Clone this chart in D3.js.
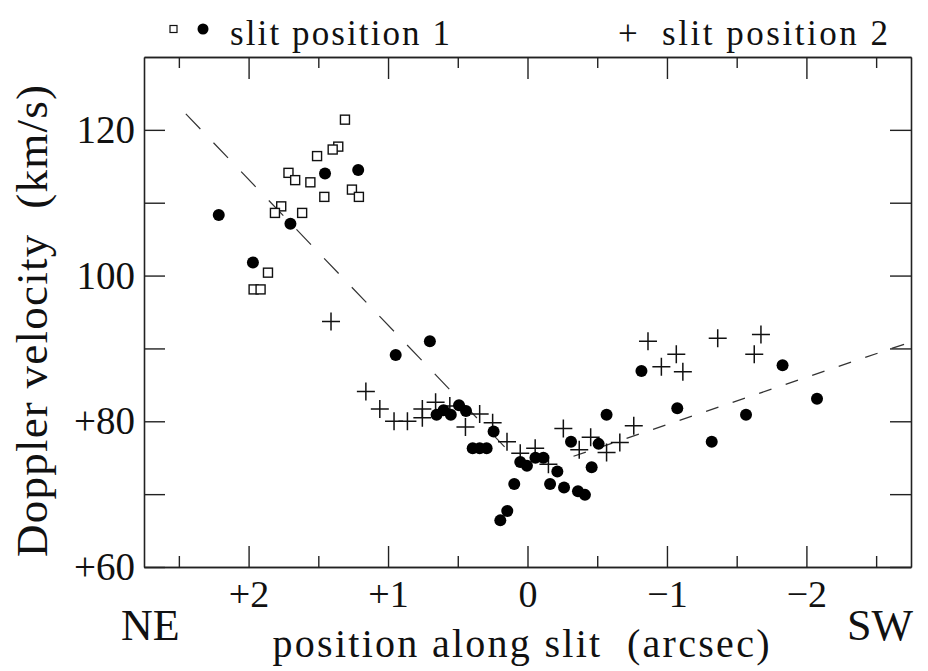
<!DOCTYPE html>
<html>
<head>
<meta charset="utf-8">
<script src="https://cdn.jsdelivr.net/npm/d3@7"></script>
<style>
  body { margin: 0; background: #fff; }
  svg text { font-family: "Liberation Serif", Tinos, "Times New Roman", Times, "DejaVu Serif", serif !important; fill: #111; white-space: pre; }
</style>
</head>
<body>
<div id="chart"></div>
<script>
// slit position 1, open squares
const sqX = [1.309, 1.357, 1.397, 1.509, 1.714, 1.666, 1.557, 1.457, 1.259, 1.209, 1.766, 1.811, 1.616, 1.861, 1.964, 1.914];
const sqY = [121.4, 117.7, 117.3, 116.4, 114.1, 113.1, 112.8, 110.8, 111.8, 110.8, 109.5, 108.6, 108.6, 100.4, 98.1, 98.1];

// slit position 1, filled dots
const dotX = [2.214, 1.969, 1.700, 1.452, 1.214, 0.945, 0.700, 0.652, 0.602, 0.550, 0.491, 0.441, 0.393, 0.343, 0.293,
              0.243, 0.195, 0.145, 0.095, 0.052, 0.004, -0.057, -0.114, -0.162, -0.214, -0.262, -0.312, -0.362, -0.412,
              -0.460, -0.510, -0.567, -0.817, -1.074, -1.321, -1.567, -1.829, -2.076];
const dotY = [108.3, 101.8, 107.1, 114.0, 114.5, 89.1, 91.0, 80.9, 81.5, 80.9, 82.2, 81.4, 76.3, 76.3, 76.3,
              78.6, 66.4, 67.7, 71.4, 74.4, 73.9, 75.0, 75.0, 71.4, 73.1, 70.9, 77.2, 70.4, 69.9,
              73.7, 76.9, 80.9, 86.9, 81.8, 77.2, 80.9, 87.7, 83.1];

// slit position 2, crosses
const plusX = [1.409, 1.159, 1.059, 0.957, 0.861, 0.754, 0.754, 0.659, 0.557, 0.445, 0.343, 0.250, 0.147, 0.052, -0.055,
               -0.150, -0.257, -0.371, -0.453, -0.567, -0.662, -0.762, -0.864, -0.960, -1.067, -1.114, -1.364, -1.626, -1.674];
const plusY = [93.7, 84.1, 81.7, 80.0, 80.0, 81.7, 80.5, 82.6, 82.1, 79.2, 81.0, 79.8, 77.2, 75.6, 76.3,
               74.1, 79.0, 76.1, 77.8, 75.7, 77.1, 79.4, 91.0, 87.5, 89.2, 86.8, 91.4, 89.2, 91.9];

// dashed fits
const fit1X = [2.45, 0.13], fit1Y = [122.2, 75.8];
const fit2X = [-0.33, -2.72], fit2Y = [75.2, 90.7];

const xTicks = [2, 1, 0, -1, -2];
const xMinor = [2.5, 1.5, 0.5, -0.5, -1.5, -2.5];
const yTicks = [60, 70, 80, 90, 100, 110, 120];
const yLabels = [60, 80, 100, 120];

const width = 928, height = 671;
const margin = {top: 57, right: 17, bottom: 105, left: 144};
const serif = "'Liberation Serif', Tinos, 'Times New Roman', Times, 'DejaVu Serif', serif";

const svg = d3.select("#chart").append("svg")
    .attr("width", width).attr("height", height)
    .attr("font-family", serif);

const x = d3.scaleLinear().domain([2.75, -2.75]).range([margin.left, width - margin.right]);
const y = d3.scaleLinear().domain([60, 130]).range([height - margin.bottom + 1, margin.top]);

const xFmt = d => d > 0 ? "+" + d : d < 0 ? "\u2212" + Math.abs(d) : "0";
const yFmt = d => yLabels.includes(d) ? (d < 100 ? "+" + d : "" + d) : "";

const styleAxis = g => {
  g.attr("font-family", serif);
  g.selectAll("path.domain").attr("stroke", "#222").attr("stroke-width", 1.6);
  g.selectAll(".tick line").attr("stroke", "#222").attr("stroke-width", 1.4);
};

// bottom
svg.append("g").attr("transform", `translate(0,${y(60)})`)
  .call(d3.axisBottom(x).tickValues(xTicks).tickSize(-21).tickSizeOuter(0).tickPadding(13).tickFormat(xFmt))
  .call(styleAxis)
  .call(g => g.selectAll("text").attr("font-size", 38).attr("font-family", serif));
svg.append("g").attr("transform", `translate(0,${y(60)})`)
  .call(d3.axisBottom(x).tickValues(xMinor).tickSize(-11).tickSizeOuter(0).tickFormat(""))
  .call(styleAxis);
// top
svg.append("g").attr("transform", `translate(0,${y(130)})`)
  .call(d3.axisTop(x).tickValues(xTicks).tickSize(-22).tickSizeOuter(0).tickFormat(""))
  .call(styleAxis);
svg.append("g").attr("transform", `translate(0,${y(130)})`)
  .call(d3.axisTop(x).tickValues(xMinor).tickSize(-11).tickSizeOuter(0).tickFormat(""))
  .call(styleAxis);
// left
svg.append("g").attr("transform", `translate(${x(2.75)},0)`)
  .call(d3.axisLeft(y).tickValues(yTicks).tickSize(-21).tickSizeOuter(0).tickPadding(9).tickFormat(yFmt))
  .call(styleAxis)
  .call(g => g.selectAll("text").attr("font-size", 39).attr("font-family", serif));
// right
svg.append("g").attr("transform", `translate(${x(-2.75)},0)`)
  .call(d3.axisRight(y).tickValues(yTicks).tickSize(-21).tickSizeOuter(0).tickFormat(""))
  .call(styleAxis);

// dashed fit lines
const line = d3.line().x(d => x(d[0])).y(d => y(d[1]));
svg.append("path")
  .attr("d", line(d3.zip(fit1X, fit1Y)))
  .attr("fill", "none").attr("stroke", "#333").attr("stroke-width", 1.2)
  .attr("stroke-dasharray", "21,19");
svg.append("path")
  .attr("d", line(d3.zip(fit2X, fit2Y)))
  .attr("fill", "none").attr("stroke", "#333").attr("stroke-width", 1.3)
  .attr("stroke-dasharray", "13,15");

// squares
svg.append("g").selectAll("rect")
  .data(d3.zip(sqX, sqY)).join("rect")
  .attr("x", d => x(d[0]) - 4.5).attr("y", d => y(d[1]) - 4.5)
  .attr("width", 9).attr("height", 9)
  .attr("fill", "#fff").attr("stroke", "#111").attr("stroke-width", 1.4);

// crosses
svg.append("g").selectAll("path")
  .data(d3.zip(plusX, plusY)).join("path")
  .attr("d", d => `M${x(d[0]) - 9},${y(d[1])}h18M${x(d[0])},${y(d[1]) - 9}v18`)
  .attr("stroke", "#111").attr("stroke-width", 1.5);

// dots
svg.append("g").selectAll("circle")
  .data(d3.zip(dotX, dotY)).join("circle")
  .attr("cx", d => x(d[0])).attr("cy", d => y(d[1]))
  .attr("r", 6).attr("fill", "#000");

// legend
svg.append("rect").attr("x", 170).attr("y", 25.5).attr("width", 7).attr("height", 7)
  .attr("fill", "#fff").attr("stroke", "#111").attr("stroke-width", 1.2);
svg.append("circle").attr("cx", 203).attr("cy", 29).attr("r", 5.5).attr("fill", "#000");
svg.append("text").attr("x", 230).attr("y", 45).attr("font-size", 35)
  .attr("textLength", 220).attr("lengthAdjust", "spacing").text("slit position 1");
svg.append("text").attr("x", 618).attr("y", 45).attr("font-size", 35).text("+");
svg.append("text").attr("x", 662).attr("y", 45).attr("font-size", 35)
  .attr("textLength", 226).attr("lengthAdjust", "spacing").text("slit position 2");

// axis titles
svg.append("text").attr("x", 521).attr("y", 657).attr("font-size", 40)
  .attr("text-anchor", "middle")
  .attr("textLength", 497).attr("lengthAdjust", "spacing")
  .text("position along slit  (arcsec)");
svg.append("text").attr("transform", "translate(47,321) rotate(-90)")
  .attr("font-size", 45).attr("text-anchor", "middle")
  .attr("textLength", 472).attr("lengthAdjust", "spacing")
  .text("Doppler velocity  (km/s)");
svg.append("text").attr("x", 121).attr("y", 640).attr("font-size", 44).text("NE");
svg.append("text").attr("x", 847).attr("y", 640).attr("font-size", 44).text("SW");
</script>
</body>
</html>
